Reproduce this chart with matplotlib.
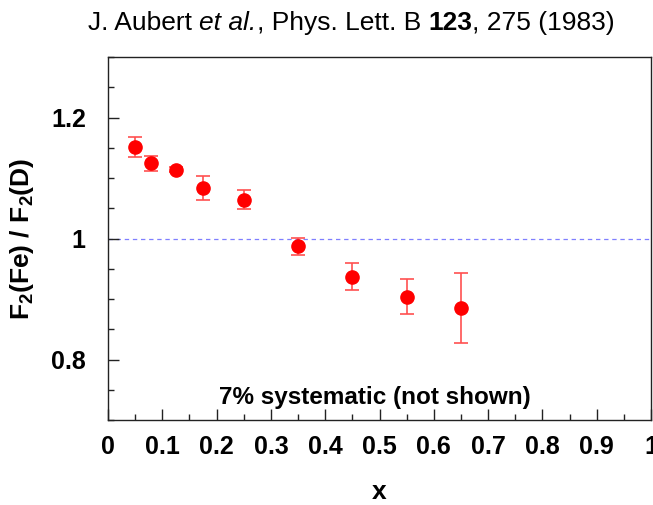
import numpy as np
import matplotlib
matplotlib.use("Agg")
import matplotlib.pyplot as plt
from matplotlib.ticker import MultipleLocator, FixedLocator

# data
x_vals = [0.05, 0.08, 0.125, 0.175, 0.25, 0.35, 0.45, 0.55, 0.65]
ratio = [1.151, 1.124, 1.114, 1.084, 1.064, 0.987, 0.937, 0.904, 0.885]
ratio_err = [0.016, 0.012, 0.004, 0.020, 0.016, 0.014, 0.022, 0.029, 0.058]

x_ticks = [0, 0.1, 0.2, 0.3, 0.4, 0.5, 0.6, 0.7, 0.8, 0.9, 1.0]
x_tick_labels = ["0", "0.1", "0.2", "0.3", "0.4", "0.5", "0.6", "0.7", "0.8", "0.9", "1"]
y_ticks = [0.8, 1.0, 1.2]
y_tick_labels = ["0.8", "1", "1.2"]

# title pieces: (text, style, weight)
title_parts = [
    ("J. Aubert ", "normal", "normal"),
    ("et al.", "italic", "normal"),
    (", Phys. Lett. B ", "normal", "normal"),
    ("123", "normal", "bold"),
    (", 275 (1983)", "normal", "normal"),
]

plt.rcParams["font.family"] = ["Liberation Sans", "DejaVu Sans"]
plt.rcParams["mathtext.fontset"] = "custom"
plt.rcParams["mathtext.rm"] = "Liberation Sans:bold"
plt.rcParams["mathtext.default"] = "rm"

fig = plt.figure(figsize=(6.53, 5.05), dpi=100)
ax = fig.add_axes([108 / 653, 85 / 505, 543 / 653, 363 / 505])

ax.axhline(1.0, color="#7f7fff", lw=0.9, ls=(0, (3.5, 3)), zorder=1)
ax.errorbar(x_vals, ratio, yerr=ratio_err, fmt="o", color="red",
            ecolor="#ff5050", elinewidth=1.2, capsize=5, capthick=1.2,
            markersize=9.5, zorder=3)

ax.set_xlim(0, 1)
ax.set_ylim(0.7, 1.3)
ax.xaxis.set_major_locator(FixedLocator(x_ticks))
ax.set_xticklabels(x_tick_labels)
ax.xaxis.set_minor_locator(MultipleLocator(0.05))
ax.yaxis.set_major_locator(FixedLocator(y_ticks))
ax.set_yticklabels(y_tick_labels)
ax.yaxis.set_minor_locator(MultipleLocator(0.05))

ax.tick_params(which="both", direction="in", color="#222222", width=1,
               top=False, right=False)
ax.tick_params(which="major", length=8, labelsize=18)
ax.tick_params(which="minor", length=4)
ax.tick_params(axis="x", which="major", pad=11)
ax.tick_params(axis="y", which="major", pad=16)
for lab in ax.get_xticklabels() + ax.get_yticklabels():
    lab.set_fontweight("bold")
for sp in ax.spines.values():
    sp.set_color("#222222")
    sp.set_linewidth(1)

ax.set_ylabel("F$_2$(Fe) / F$_2$(D)", fontsize=19, fontweight="bold", labelpad=11)
fig.text(379 / 653, 1 - 492 / 505, "x", fontsize=19, fontweight="bold",
         ha="center", va="center")

ax.text(0.492, 0.738, "7% systematic (not shown)", fontsize=17.5,
        fontweight="bold", ha="center", va="center")

# title assembled piece by piece, each placed after the previous one
renderer = fig.canvas.get_renderer()
x_px = 88
y_px = 505 - 30
for txt, style, weight in title_parts:
    t = fig.text(x_px / 653, y_px / 505, txt, fontsize=19, style=style,
                 weight=weight, va="baseline", ha="left")
    x_px += t.get_window_extent(renderer).width

fig.savefig("out.png", dpi=100)
